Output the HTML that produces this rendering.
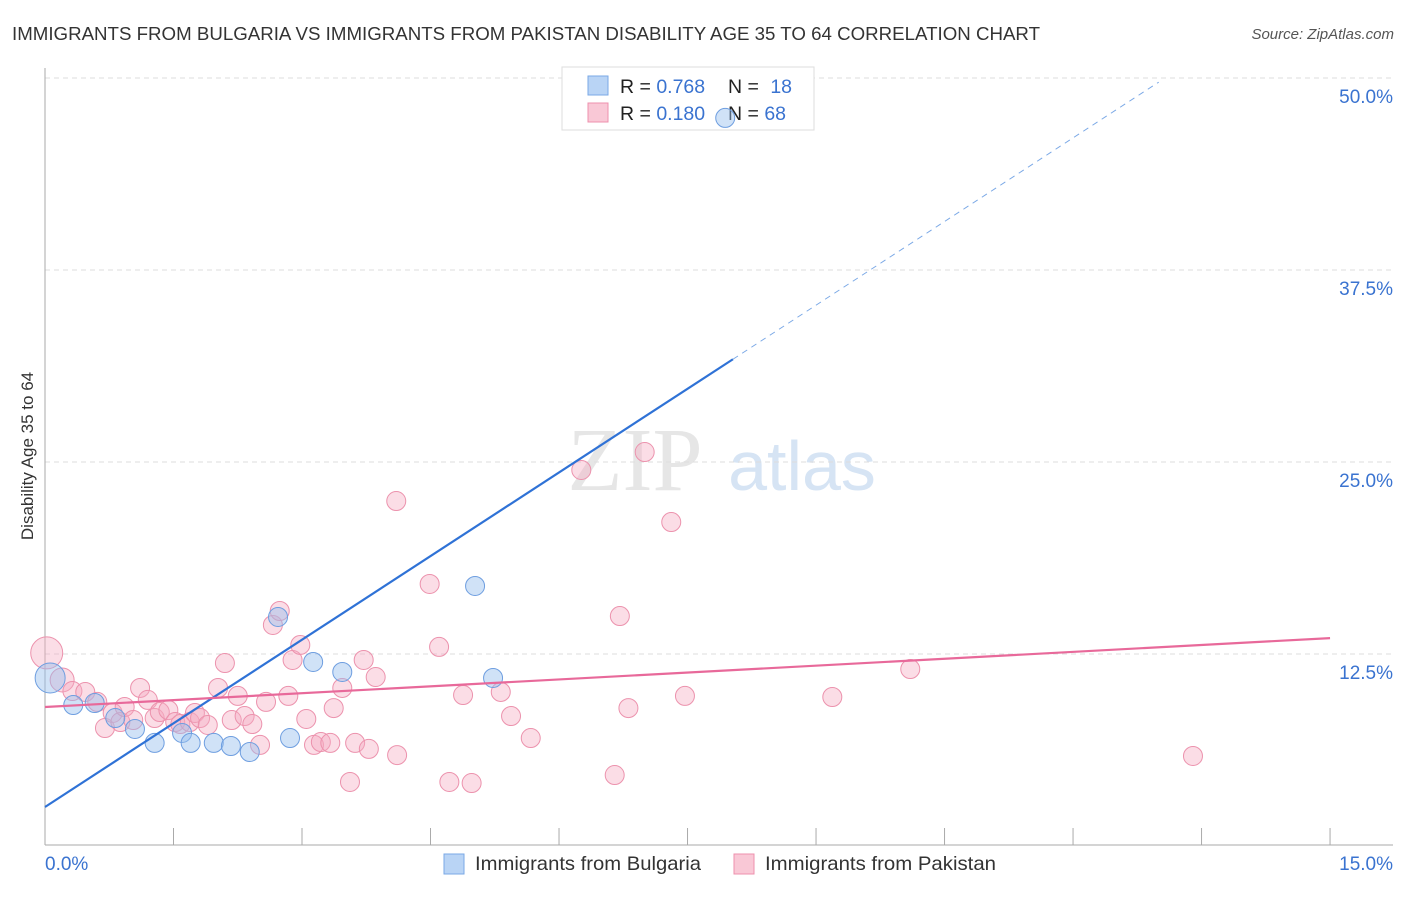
<!DOCTYPE html>
<html><head><meta charset="utf-8"><style>
body{margin:0;background:#fff;width:1406px;height:892px;overflow:hidden;font-family:"Liberation Sans",sans-serif}
</style></head><body>
<svg width="1406" height="892" xmlns="http://www.w3.org/2000/svg">
<text x="12" y="40" font-size="18" fill="#333" textLength="1028" lengthAdjust="spacingAndGlyphs">IMMIGRANTS FROM BULGARIA VS IMMIGRANTS FROM PAKISTAN DISABILITY AGE 35 TO 64 CORRELATION CHART</text>
<text x="1394" y="39" font-size="15" fill="#555" font-style="italic" text-anchor="end">Source: ZipAtlas.com</text>
<text x="635" y="490" font-size="90" fill="#e6e6e6" font-family="Liberation Serif" text-anchor="middle">ZIP</text>
<text x="802" y="490" font-size="70" fill="#d6e4f4" text-anchor="middle">atlas</text>
<text transform="translate(33,456) rotate(-90)" font-size="17" fill="#333" text-anchor="middle">Disability Age 35 to 64</text>
<g id="grid"></g><g id="axes"></g>
<g>
<rect x="562" y="67" width="252" height="63" fill="#fff" stroke="#ddd"/>
<rect x="588" y="76" width="20" height="19" fill="#b9d4f5" stroke="#7aa8e6"/>
<rect x="588" y="103" width="20" height="19" fill="#f9c8d6" stroke="#ee90ad"/>
<text x="620" y="93" font-size="19.5" fill="#222">R = <tspan fill="#3a73d0">0.768</tspan></text>
<text x="728" y="93" font-size="19.5" fill="#222">N = <tspan fill="#3a73d0" dx="6">18</tspan></text>
<text x="620" y="120" font-size="19.5" fill="#222">R = <tspan fill="#3a73d0">0.180</tspan></text>
<text x="728" y="120" font-size="19.5" fill="#222">N = <tspan fill="#3a73d0">68</tspan></text>
</g>
<g id="pts"></g><g id="lines"></g>
<g>
<rect x="444" y="854" width="20" height="20" fill="#b9d4f5" stroke="#7aa8e6"/>
<text x="475" y="870" font-size="19.5" fill="#333" textLength="226" lengthAdjust="spacingAndGlyphs">Immigrants from Bulgaria</text>
<rect x="734" y="854" width="20" height="20" fill="#f9c8d6" stroke="#ee90ad"/>
<text x="765" y="870" font-size="19.5" fill="#333" textLength="231" lengthAdjust="spacingAndGlyphs">Immigrants from Pakistan</text>
</g>
</svg>
<script>
const yTicks=[12.5,25,37.5,50];
const xTickVals=[0,1.5,3,4.5,6,7.5,9,10.5,12,13.5,15];
const blueX=[0.06,0.33,0.58,0.82,1.05,1.28,1.60,1.70,1.97,2.17,2.39,2.72,2.86,3.13,3.47,5.02,5.23,7.94];
const blueY=[10.94,9.18,9.31,8.33,7.62,6.71,7.36,6.71,6.71,6.51,6.12,14.91,7.03,11.98,11.33,16.93,10.94,47.40];
const pinkX=[0.02,0.20,0.32,0.47,0.61,0.70,0.79,0.88,0.93,1.03,1.11,1.20,1.28,1.34,1.44,1.52,1.58,1.69,1.75,1.81,1.90,2.02,2.10,2.18,2.25,2.33,2.42,2.51,2.58,2.66,2.74,2.84,2.89,2.98,3.05,3.14,3.22,3.33,3.37,3.47,3.56,3.62,3.72,3.78,3.86,4.10,4.11,4.49,4.60,4.72,4.88,4.98,5.32,5.44,5.67,6.26,6.65,6.71,6.81,7.00,7.31,7.47,9.19,10.10,13.40];
const pinkY=[12.57,10.81,10.09,10.03,9.38,7.68,8.66,8.07,9.05,8.20,10.29,9.51,8.33,8.72,8.85,8.07,7.94,8.07,8.66,8.33,7.88,10.29,11.91,8.20,9.77,8.46,7.94,6.58,9.38,14.39,15.30,9.77,12.11,13.09,8.27,6.58,6.77,6.71,8.98,10.29,4.17,6.71,12.11,6.32,11.00,22.46,5.92,17.06,12.96,4.17,9.83,4.10,10.03,8.46,7.03,24.48,4.62,14.97,8.98,25.65,21.09,9.77,9.70,11.52,5.86];
const blueFit=[2.54,3.63];
const pinkFit=[9.05,0.299];
const NS='http://www.w3.org/2000/svg';
const X=v=>45+v*85.67, Y=v=>846-v*15.36;
function mk(tag,attrs,parent){const e=document.createElementNS(NS,tag);for(const k in attrs)e.setAttribute(k,attrs[k]);document.getElementById(parent).appendChild(e);return e;}
yTicks.forEach(t=>{
 const l=mk('line',{x1:45,x2:1393,y1:Y(t),y2:Y(t),stroke:'#ddd','stroke-dasharray':'5,4'},'grid');
 
 
 const tx=mk('text',{x:1393,y:Y(t)+25,'font-size':19,fill:'#3a73d0','text-anchor':'end'},'grid');
 tx.textContent=t.toFixed(1)+'%';
 
 
});
const ax=mk('line',{x1:45,x2:1393,y1:845,y2:845,stroke:'#aaa'},'axes');


const ay=mk('line',{x1:45,x2:45,y1:68,y2:845,stroke:'#aaa'},'axes');


xTickVals.forEach(t=>{const l=mk('line',{x1:X(t),x2:X(t),y1:828,y2:845,stroke:'#aaa'},'axes');
 
 });
[[0,'start',45],[15,'end',1393]].forEach(([v,a,x])=>{const t=mk('text',{x:x,y:870,'font-size':19,fill:'#3a73d0','text-anchor':a},'axes');t.textContent=v.toFixed(1)+'%';
 
 });
pinkX.forEach((x,i)=>{const c=mk('circle',{cx:X(x),cy:Y(pinkY[i]),r:i<2?(i==0?16:12):9.5,fill:'rgba(246,170,192,0.4)',stroke:'#ec92ad','stroke-width':1},'pts');
 
 });
blueX.forEach((x,i)=>{const c=mk('circle',{cx:X(x),cy:Y(blueY[i]),r:i==0?15:9.5,fill:'rgba(150,190,238,0.45)',stroke:'#6e9ee0','stroke-width':1},'pts');
 
 });
const bl=mk('line',{x1:X(0),y1:Y(blueFit[0]),x2:X(8.03),y2:Y(blueFit[0]+blueFit[1]*8.03),stroke:'#2f72d6','stroke-width':2.2},'lines');


const bd=mk('line',{x1:X(8.03),y1:Y(blueFit[0]+blueFit[1]*8.03),x2:X(13.0),y2:Y(blueFit[0]+blueFit[1]*13.0),stroke:'#7aa8e6','stroke-width':1,'stroke-dasharray':'6,5'},'lines');


const pl=mk('line',{x1:X(0),y1:Y(pinkFit[0]),x2:X(15),y2:Y(pinkFit[0]+pinkFit[1]*15),stroke:'#e8699a','stroke-width':2.2},'lines');


</script>
</body></html>
